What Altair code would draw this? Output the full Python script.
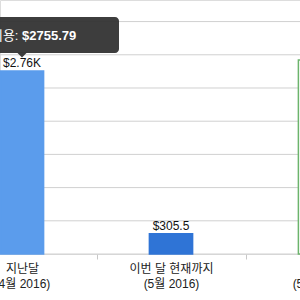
import altair as alt
import pandas as pd

categories = ["지난달", "이번 달 현재까지", "예측"]
periods = ["(4월 2016)", "(5월 2016)", "(5월 2016)"]
values = [2755.79, 305.5, 2920.0]
value_labels = ["$2.76K", "$305.5", ""]
fills = ["#5b9cec", "#2f74d6", "#ffffff"]
strokes = ["#5b9cec", "#2f74d6", "#6cb46c"]
grid_values = [0, 500, 1000, 1500, 2000, 2500, 3000, 3500]

tooltip_name = "비용:"
tooltip_value = "$" + f"{values[0]:.2f}"

df = pd.DataFrame({
    "cat": categories,
    "label": [c + "\n" + p for c, p in zip(categories, periods)],
    "value": values,
    "vlabel": value_labels,
    "fill": fills,
    "stroke": strokes,
})
grid_df = pd.DataFrame({"g": grid_values})

FONT = "Liberation Sans, Noto Sans CJK KR"

label_map = " : ".join(
    f"datum.value == '{c}' ? '{c}\\n{p}'" for c, p in zip(categories, periods)
) + " : ''"

x = alt.X("cat:N", sort=categories, title=None,
          scale=alt.Scale(domain=categories, range=[-52.5, 394.5], paddingInner=0, paddingOuter=0),
          axis=alt.Axis(labelExpr=f"split({label_map}, '\\n')",
                        labelAngle=0, labelFontSize=12, labelColor="#222", labelFont=FONT,
                        labelLineHeight=15, labelPadding=4, tickSize=5, tickColor="#c8c8c8",
                        tickBand="extent", domain=False, grid=False, labelBaseline="top",
                        labelOverlap=False, labelBound=False, labelFlush=False))
yscale = alt.Scale(domain=[0, 3825], nice=False)

grid = alt.Chart(grid_df).mark_rule(color="#d0d0d0", strokeWidth=1).encode(
    y=alt.Y("g:Q", scale=yscale, axis=None),
    x=alt.value(0), x2=alt.value(300),
)

base = alt.Chart(df)

bars = base.mark_bar(width=alt.RelativeBandSize(0.29), strokeWidth=1.5).encode(
    x=x, y=alt.Y("value:Q", scale=yscale, axis=None),
    fill=alt.Fill("fill:N", scale=None),
    stroke=alt.Stroke("stroke:N", scale=None),
)

texts = base.mark_text(dy=-4, baseline="alphabetic", fontSize=12, font=FONT, color="#111").encode(
    x=alt.X("cat:N", sort=categories), y="value:Q", text="vlabel:N"
)

tip_box = alt.Chart(pd.DataFrame({"a": [0]})).mark_rect(
    cornerRadius=4, fill="#333333", opacity=0.95
).encode(x=alt.value(-12), x2=alt.value(119), y=alt.value(17), y2=alt.value(53))

tip_arrow = alt.Chart(pd.DataFrame({"a": [0]})).mark_point(
    shape="M-1,0L1,0L0,1Z", filled=True, fill="#333333", opacity=0.95, size=100, strokeWidth=0
).encode(x=alt.value(22), y=alt.value(52.5))

tip_name = alt.Chart(pd.DataFrame({"t": [tooltip_name]})).mark_text(
    align="right", baseline="alphabetic", fontSize=13, font=FONT, color="#ffffff"
).encode(x=alt.value(18.5), y=alt.value(39.5), text="t:N")

tip_val = alt.Chart(pd.DataFrame({"t": [tooltip_value]})).mark_text(
    align="left", baseline="alphabetic", fontSize=13, fontWeight="bold", font=FONT, color="#ffffff"
).encode(x=alt.value(22), y=alt.value(39.5), text="t:N")

chart = alt.layer(grid, bars, texts, tip_box, tip_arrow, tip_name, tip_val).properties(
    width=300, height=254,
    padding={"left": 0, "top": 0, "right": 0, "bottom": 46},
    autosize=alt.AutoSizeParams(type="none"),
).configure_view(stroke=None).configure(background="white")

chart.save("out.html", embed_options={"renderer": "svg", "actions": False})
